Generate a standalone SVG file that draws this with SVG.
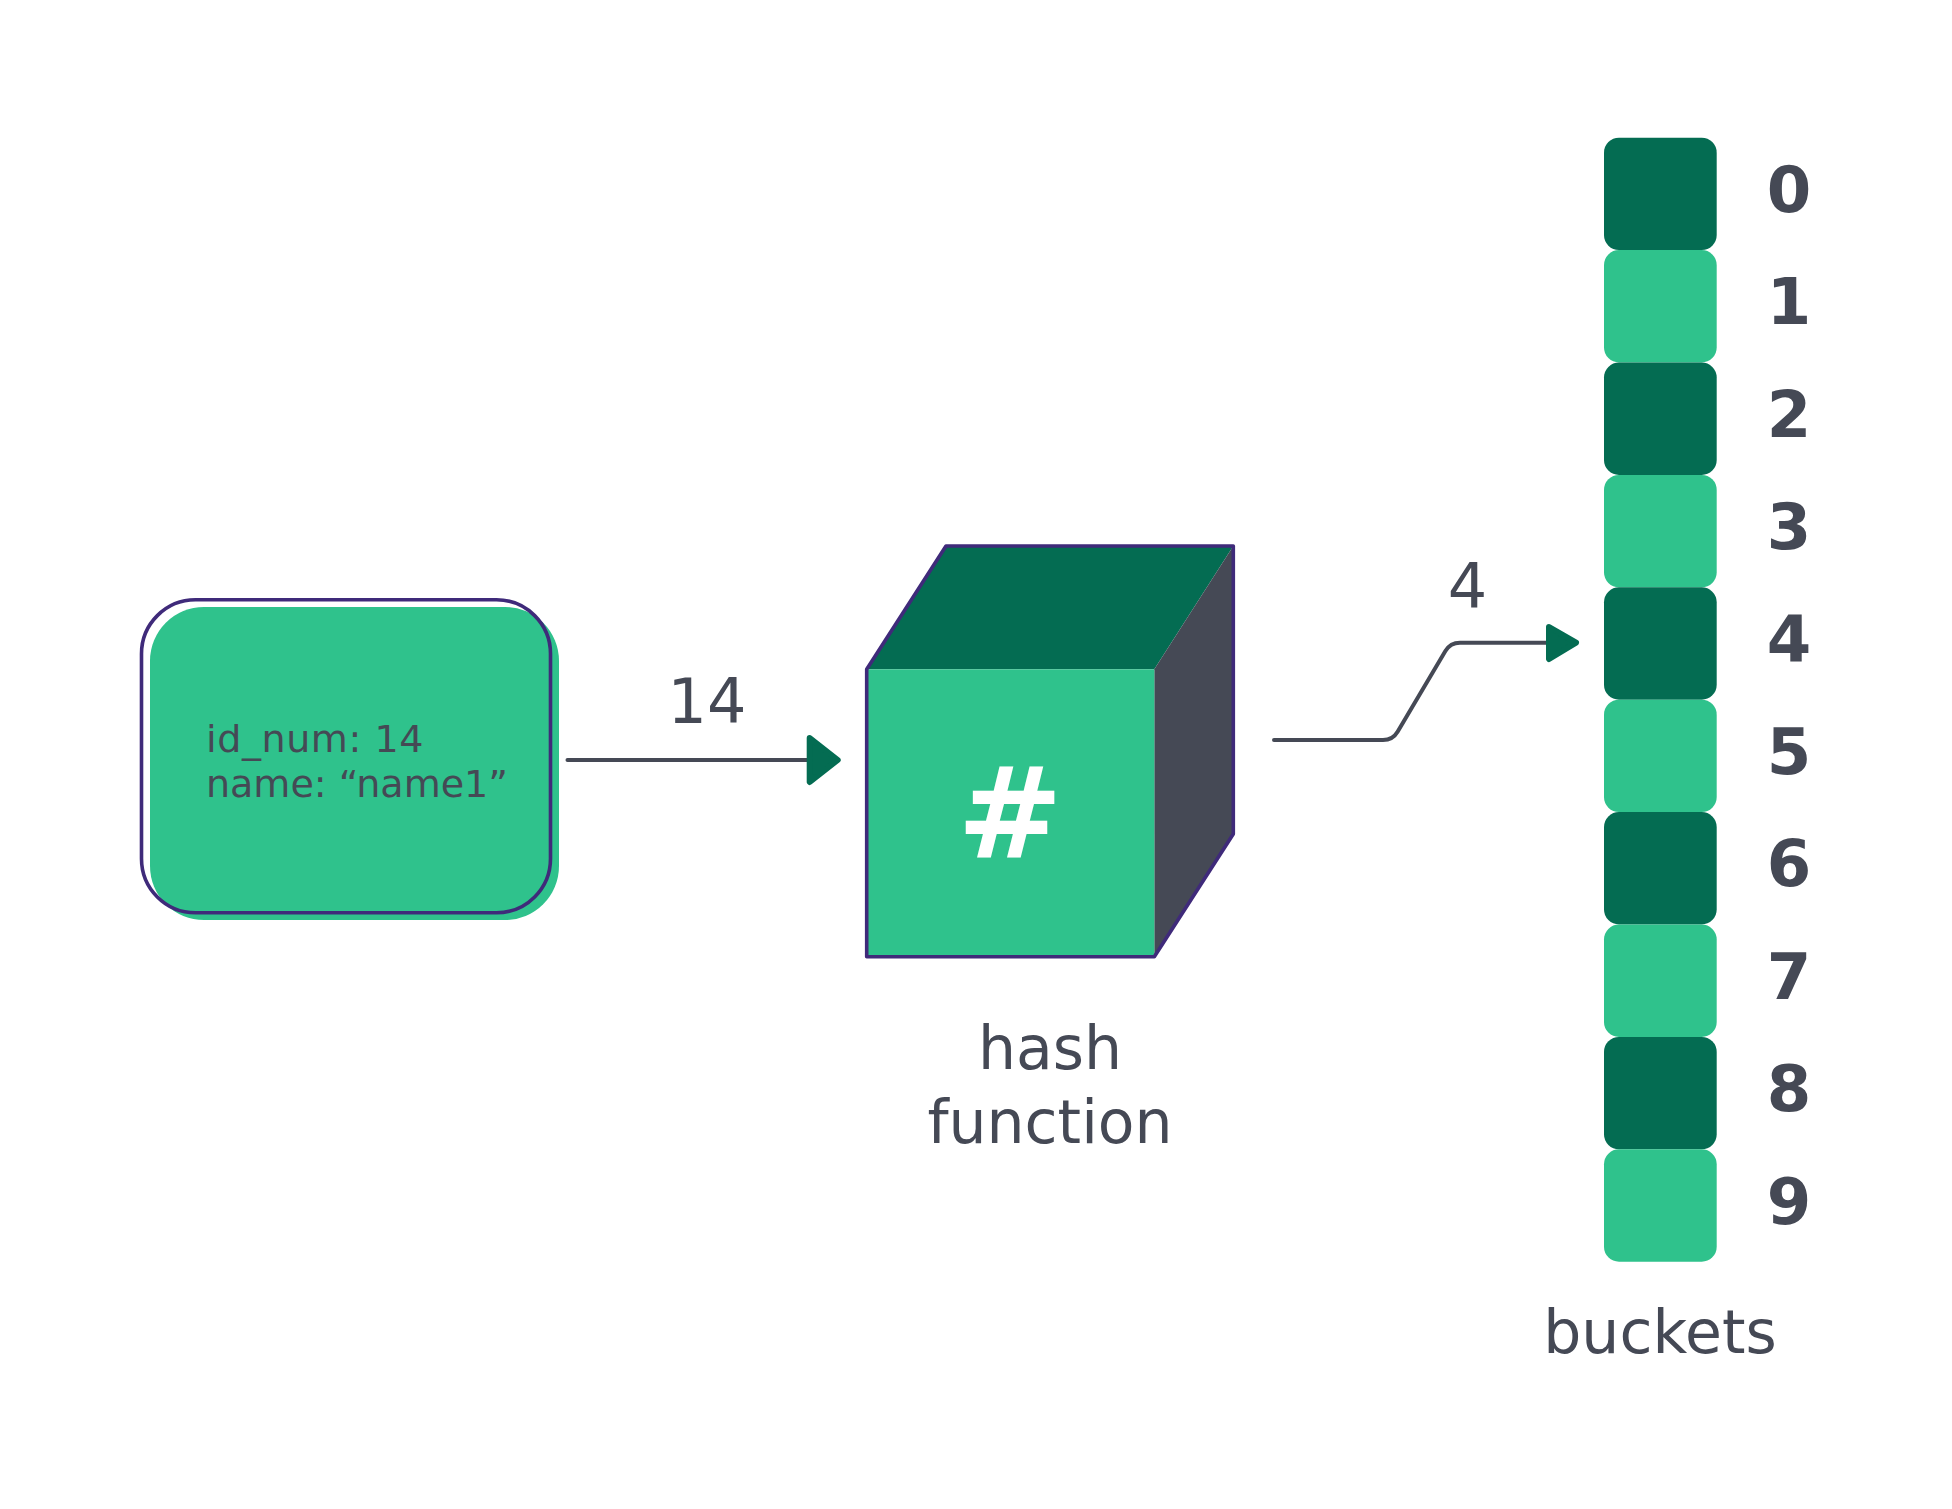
<svg xmlns="http://www.w3.org/2000/svg" width="1952" height="1509" viewBox="0 0 1952 1509">
  <style>
    .t { font-family: "DejaVu Sans", Verdana, sans-serif; fill: #454955; }
    .lbl { font-size: 62px; text-anchor: middle; }
    .idx { font-size: 64px; font-weight: bold; text-anchor: middle; }
    .light { fill: #2fc28c; }
    .dark { fill: #046c52; }
    .outline { fill: none; stroke: #3f2a7a; stroke-width: 3.6; stroke-linejoin: round; }
    .edge { fill: none; stroke: #454955; stroke-width: 4; stroke-linecap: round; stroke-linejoin: round; }
    .head { fill: #046c52; stroke: #046c52; stroke-width: 6; stroke-linejoin: round; }
  </style>
  <rect width="1952" height="1509" fill="#ffffff"/>

  <g id="record">
    <rect x="150" y="607" width="409" height="313" rx="54" class="light"/>
    <rect x="141.5" y="599.8" width="409" height="313" rx="54" class="outline"/>
    <text class="t" x="206" y="752" font-size="38" letter-spacing="0.6">id_num: 14</text>
    <text class="t" x="206" y="797" font-size="38">name: “name1”</text>
  </g>

  <g id="hash-function">
    <polygon points="866.7,669.3 946,546 1233.3,546 1154.3,669.3" class="dark"/>
    <polygon points="1154.3,669.3 1233.3,546 1233.3,834 1154.3,956.7" fill="#454955"/>
    <rect x="866.7" y="669.3" width="287.6" height="287.4" class="light"/>
    <path d="M866.7,669.3 L946,546 L1233.3,546 L1233.3,834 L1154.3,956.7 L866.7,956.7 Z" class="outline"/>
    <text x="1010" y="858" font-family="'DejaVu Sans', Verdana, sans-serif" font-size="126" font-weight="bold" fill="#ffffff" text-anchor="middle">#</text>
    <text class="t" x="1050" y="1069" font-size="60" text-anchor="middle">hash</text>
    <text class="t" x="1050" y="1143" font-size="60" text-anchor="middle">function</text>
  </g>

  <g id="buckets">
    <rect x="1604" y="137.7" width="112.7" height="112.4" rx="15" class="dark"/>
    <rect x="1604" y="250.1" width="112.7" height="112.4" rx="15" class="light"/>
    <rect x="1604" y="362.5" width="112.7" height="112.4" rx="15" class="dark"/>
    <rect x="1604" y="474.9" width="112.7" height="112.4" rx="15" class="light"/>
    <rect x="1604" y="587.3" width="112.7" height="112.4" rx="15" class="dark"/>
    <rect x="1604" y="699.7" width="112.7" height="112.4" rx="15" class="light"/>
    <rect x="1604" y="812.1" width="112.7" height="112.4" rx="15" class="dark"/>
    <rect x="1604" y="924.5" width="112.7" height="112.4" rx="15" class="light"/>
    <rect x="1604" y="1036.9" width="112.7" height="112.4" rx="15" class="dark"/>
    <rect x="1604" y="1149.3" width="112.7" height="112.4" rx="15" class="light"/>
    <text class="t idx" x="1789" y="212">0</text>
    <text class="t idx" x="1789" y="324.4">1</text>
    <text class="t idx" x="1789" y="436.8">2</text>
    <text class="t idx" x="1789" y="549.2">3</text>
    <text class="t idx" x="1789" y="661.6">4</text>
    <text class="t idx" x="1789" y="774">5</text>
    <text class="t idx" x="1789" y="886.4">6</text>
    <text class="t idx" x="1789" y="998.8">7</text>
    <text class="t idx" x="1789" y="1111.2">8</text>
    <text class="t idx" x="1789" y="1223.6">9</text>
    <text class="t" x="1660" y="1352.7" font-size="60" text-anchor="middle">buckets</text>
  </g>

  <g id="connectors">
    <path class="edge" d="M567.5,760 L808,760"/>
    <path class="head" d="M809.7,738 L837.7,760 L809.7,782 Z"/>
    <text class="t lbl" x="707" y="723">14</text>
    <path class="edge" d="M1274,740 L1383,740 Q1392.7,740 1397.6,731.7 L1445.4,651 Q1450.3,642.7 1460,642.7 L1550,642.7"/>
    <path class="head" d="M1549,627 L1576,642.7 L1549,659 Z"/>
    <text class="t lbl" x="1467.5" y="608">4</text>
  </g>
</svg>
